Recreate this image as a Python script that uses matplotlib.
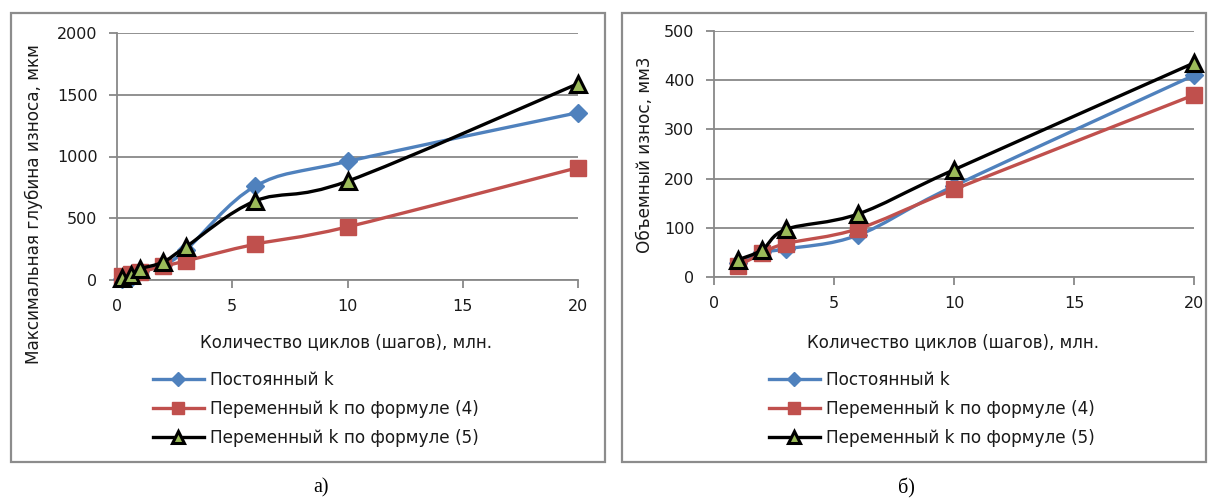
import numpy as np
import matplotlib
matplotlib.use("Agg")
import matplotlib.pyplot as plt
from matplotlib.path import Path
from matplotlib.patches import PathPatch, Rectangle

plt.rcParams['font.family'] = ['DejaVu Sans']

# --- data ---
labels = ["Постоянный k", "Переменный k по формуле (4)", "Переменный k по формуле (5)"]

# a) максимальная глубина износа, мкм
x_depth = [0.2, 0.6, 1, 2, 3, 6, 10, 20]
depth_const = [5, 15, 70, 120, 245, 760, 960, 1355]
depth_f4 = [30, 45, 65, 110, 155, 290, 430, 910]
depth_f5 = [20, 40, 90, 145, 270, 640, 800, 1590]

# б) объемный износ, мм3
x_vol = [1, 2, 3, 6, 10, 20]
vol_const = [28, 50, 57, 85, 185, 410]
vol_f4 = [22, 48, 68, 98, 178, 370]
vol_f5 = [35, 55, 97, 128, 218, 435]

blue = '#4F81BD'
red = '#C0504D'
green = '#9BBB59'
grid_c = '#888888'
txt_c = '#1a1a1a'


def smooth_path(x, y):
    # excel-like smoothed line: cubic bezier through the points
    p = np.column_stack([x, y]).astype(float)
    n = len(p)
    verts = [p[0]]
    codes = [Path.MOVETO]
    for i in range(n - 1):
        p0 = p[i - 1] if i > 0 else p[i]
        p3 = p[i + 2] if i + 2 < n else p[i + 1]
        c1 = p[i] + (p[i + 1] - p0) / 6.0
        c2 = p[i + 1] - (p3 - p[i]) / 6.0
        verts += [c1, c2, p[i + 1]]
        codes += [Path.CURVE4] * 3
    return Path(verts, codes)


styles = [
    dict(color=blue, marker='D', ms=9, mfc=blue, mec=blue, mew=1),
    dict(color=red, marker='s', ms=11, mfc=red, mec=red, mew=1),
    dict(color='black', marker='^', ms=11, mfc=green, mec='black', mew=2.2),
]


def draw_panel(ax, x, series, ymax, ystep):
    handles = []
    for k, (yv, st) in enumerate(zip(series, styles)):
        z = 3 + k
        ax.add_patch(PathPatch(smooth_path(x, yv), fill=False, ec=st['color'],
                               lw=2.4, zorder=z, capstyle='round', joinstyle='round'))
        ax.plot(x, yv, ls='none', marker=st['marker'], ms=st['ms'], mfc=st['mfc'],
                mec=st['mec'], mew=st['mew'], zorder=z, clip_on=False)
        h, = ax.plot([], [], color=st['color'], lw=2.4, marker=st['marker'],
                     ms=st['ms'] * 0.8, mfc=st['mfc'], mec=st['mec'], mew=st['mew'])
        handles.append(h)
    ax.set_xlim(0, 20)
    ax.set_ylim(0, ymax)
    ax.set_xticks(np.arange(0, 21, 5))
    ax.set_yticks(np.arange(0, ymax + 1, ystep))
    ax.grid(axis='y', color=grid_c, lw=1.3)
    ax.set_axisbelow(True)
    for s in ['top', 'right']:
        ax.spines[s].set_visible(False)
    for s in ['left', 'bottom']:
        ax.spines[s].set_color(grid_c)
        ax.spines[s].set_linewidth(1.3)
    ax.tick_params(direction='out', length=6, width=1.3, color=grid_c,
                   labelsize=11.5, labelcolor=txt_c, pad=8)
    return handles


fig = plt.figure(figsize=(12.08, 4.98), dpi=100)
W, H = 1208.0, 498.0

# chart frames
fig.patches.append(Rectangle((11 / W, 1 - 462 / H), 594 / W, 449 / H, transform=fig.transFigure,
                             fill=False, ec='#8c8c8c', lw=1.6))
fig.patches.append(Rectangle((622 / W, 1 - 462 / H), 584 / W, 449 / H, transform=fig.transFigure,
                             fill=False, ec='#8c8c8c', lw=1.6))

ax1 = fig.add_axes([117 / W, 1 - 280 / H, 461 / W, 247 / H])
ax2 = fig.add_axes([714 / W, 1 - 277 / H, 480 / W, 246 / H])

h1 = draw_panel(ax1, x_depth, [depth_const, depth_f4, depth_f5], 2000, 500)
h2 = draw_panel(ax2, x_vol, [vol_const, vol_f4, vol_f5], 500, 100)

xlabel = "Количество циклов (шагов), млн."
fig.text(346 / W, 1 - 342 / H, xlabel, ha='center', va='center', fontsize=12, color=txt_c)
fig.text(953 / W, 1 - 342 / H, xlabel, ha='center', va='center', fontsize=12, color=txt_c)
fig.text(34 / W, 1 - 204 / H, "Максимальная глубина износа, мкм", rotation=90,
         ha='center', va='center', fontsize=12.2, color=txt_c)
fig.text(645 / W, 1 - 155 / H, "Объемный износ, мм3", rotation=90,
         ha='center', va='center', fontsize=12.2, color=txt_c)

for hh, x0 in [(h1, 153), (h2, 769)]:
    fig.legend(hh, labels, loc='center left', bbox_to_anchor=(x0 / W, 1 - 409 / H),
               bbox_transform=fig.transFigure, frameon=False, fontsize=12.2,
               handlelength=3.0, handletextpad=0.35, labelspacing=0.65,
               borderpad=0, borderaxespad=0, labelcolor=txt_c)

fig.text(321 / W, 1 - 488 / H, "а)", ha='center', va='center', fontsize=14.5,
         family=['Liberation Serif', 'DejaVu Serif'])
fig.text(906 / W, 1 - 488 / H, "б)", ha='center', va='center', fontsize=14.5,
         family=['Liberation Serif', 'DejaVu Serif'])

fig.savefig("out.png", dpi=100)
